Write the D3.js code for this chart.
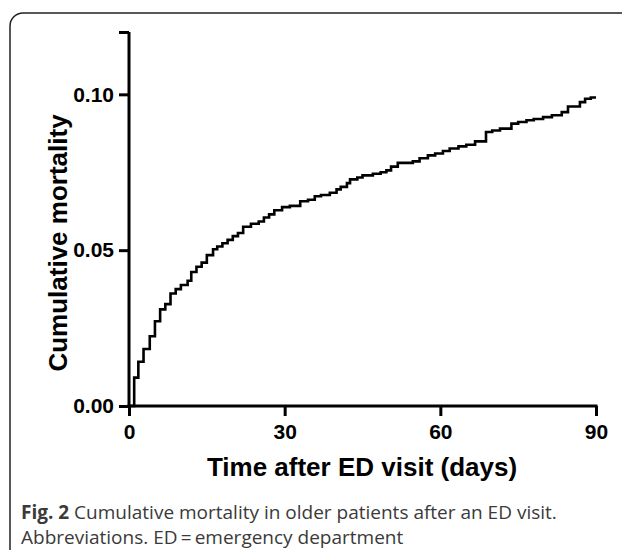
<!DOCTYPE html>
<html>
<head>
<meta charset="utf-8">
<script src="https://cdn.jsdelivr.net/npm/d3@7"></script>
<style>
  body { margin: 0; background: #fff; }
  svg { display: block; }
</style>
</head>
<body>
<svg id="chart" width="622" height="550"></svg>
<script>
// cumulative mortality steps: [day, value]
var days = [0, 1, 1.8, 2.8, 4, 5, 6, 7, 8, 9, 10, 11.3, 12, 13, 14, 15, 16.2, 17, 18, 19, 20, 21, 22, 23.5, 25, 26, 27, 28, 29.5,
            31, 33, 34.5, 35.8, 37, 38.7, 40, 40.8, 42, 42.6, 44, 45, 47, 48.5, 49.6, 50.5, 51.8, 54.7, 56, 57.6, 59, 60.5,
            61.8, 63.5, 65, 66.7, 68.8, 70, 71.5, 73.7, 75, 76.6, 78, 79.8, 81.5, 83.4, 84.6, 86.9, 87.9, 89, 90];
var mortality = [0, 0.0091, 0.0142, 0.0183, 0.0224, 0.0272, 0.031, 0.0327, 0.0361, 0.0375, 0.0388, 0.0402, 0.043, 0.0447, 0.046,
                 0.0484, 0.0503, 0.0512, 0.0522, 0.0533, 0.0545, 0.0555, 0.0575, 0.0585, 0.0592, 0.0605, 0.0615, 0.0628, 0.0638,
                 0.0642, 0.0657, 0.0662, 0.0673, 0.0677, 0.0684, 0.0695, 0.0703, 0.0715, 0.0727, 0.0733, 0.074, 0.0745, 0.075,
                 0.0756, 0.0768, 0.078, 0.0785, 0.0795, 0.0804, 0.081, 0.0818, 0.0826, 0.0833, 0.0838, 0.0849, 0.0879, 0.0884,
                 0.089, 0.0906, 0.0911, 0.0917, 0.0921, 0.0927, 0.0933, 0.0943, 0.0961, 0.0975, 0.0986, 0.099, 0.099];
var xTicks = [0, 30, 60, 90];
var yTicks = [0, 0.05, 0.10, 0.12];
var yLabels = ['0.00', '0.05', '0.10', ''];

var svg = d3.select('#chart');
var boldFont = '"Liberation Sans", Arial, sans-serif';

// figure frame
svg.append('rect')
    .attr('x', 10).attr('y', 13).attr('width', 800).attr('height', 800)
    .attr('rx', 13).attr('ry', 13)
    .style('fill', 'none').style('stroke', '#222').style('stroke-width', 1.5);

var x = d3.scaleLinear().domain([0, 90]).range([129, 596]);
var y = d3.scaleLinear().domain([0, 0.12]).range([406, 32]);

var xAxis = svg.append('g').attr('transform', 'translate(0,406)')
    .call(d3.axisBottom(x).tickValues(xTicks).tickSize(10).tickSizeOuter(0).tickPadding(8));
var yAxis = svg.append('g').attr('transform', 'translate(129,0)')
    .call(d3.axisLeft(y).tickValues(yTicks).tickSize(10).tickSizeOuter(0).tickPadding(5)
        .tickFormat(function(d, i){ return yLabels[i]; }));

[xAxis, yAxis].forEach(function(a){
    a.select('.domain').style('stroke', '#000').style('stroke-width', 3);
    a.selectAll('.tick line').style('stroke', '#000').style('stroke-width', 3);
    a.selectAll('.tick text')
        .attr('font-family', boldFont).attr('font-weight', 'bold').attr('font-size', 21)
        .style('fill', '#000');
});
yAxis.select('.domain').attr('d', 'M0,' + (y(0) + 1.5) + 'V' + y(0.12));
xAxis.select('.domain').attr('d', 'M' + (x(0) - 1.5) + ',0H' + (x(90) + 1.5));

var pts = days.map(function(d, i){ return [x(d), y(mortality[i])]; });
var line = d3.line().curve(d3.curveStepAfter);
svg.append('path')
    .attr('d', line(pts))
    .style('fill', 'none').style('stroke', '#000').style('stroke-width', 2.6);

svg.append('text')
    .attr('transform', 'translate(67,243) rotate(-90)')
    .attr('text-anchor', 'middle')
    .style('font-family', boldFont)
    .style('font-weight', 'bold').style('font-size', '26px')
    .text('Cumulative mortality');

svg.append('text')
    .attr('x', 362).attr('y', 476)
    .attr('text-anchor', 'middle')
    .style('font-family', boldFont)
    .style('font-weight', 'bold').style('font-size', '26px')
    .text('Time after ED visit (days)');

var cap = svg.append('g')
    .style('font-family', '"Open Sans", sans-serif').style('font-size', '19px').style('fill', '#3a3a3a');
var c1 = cap.append('text').attr('x', 21).attr('y', 519);
c1.append('tspan').style('font-weight', 'bold').text('Fig. 2');
c1.append('tspan').text(' Cumulative mortality in older patients after an ED visit.');
cap.append('text').attr('x', 21).attr('y', 544).text('Abbreviations. ED\u2009=\u2009emergency department');
</script>
</body>
</html>
